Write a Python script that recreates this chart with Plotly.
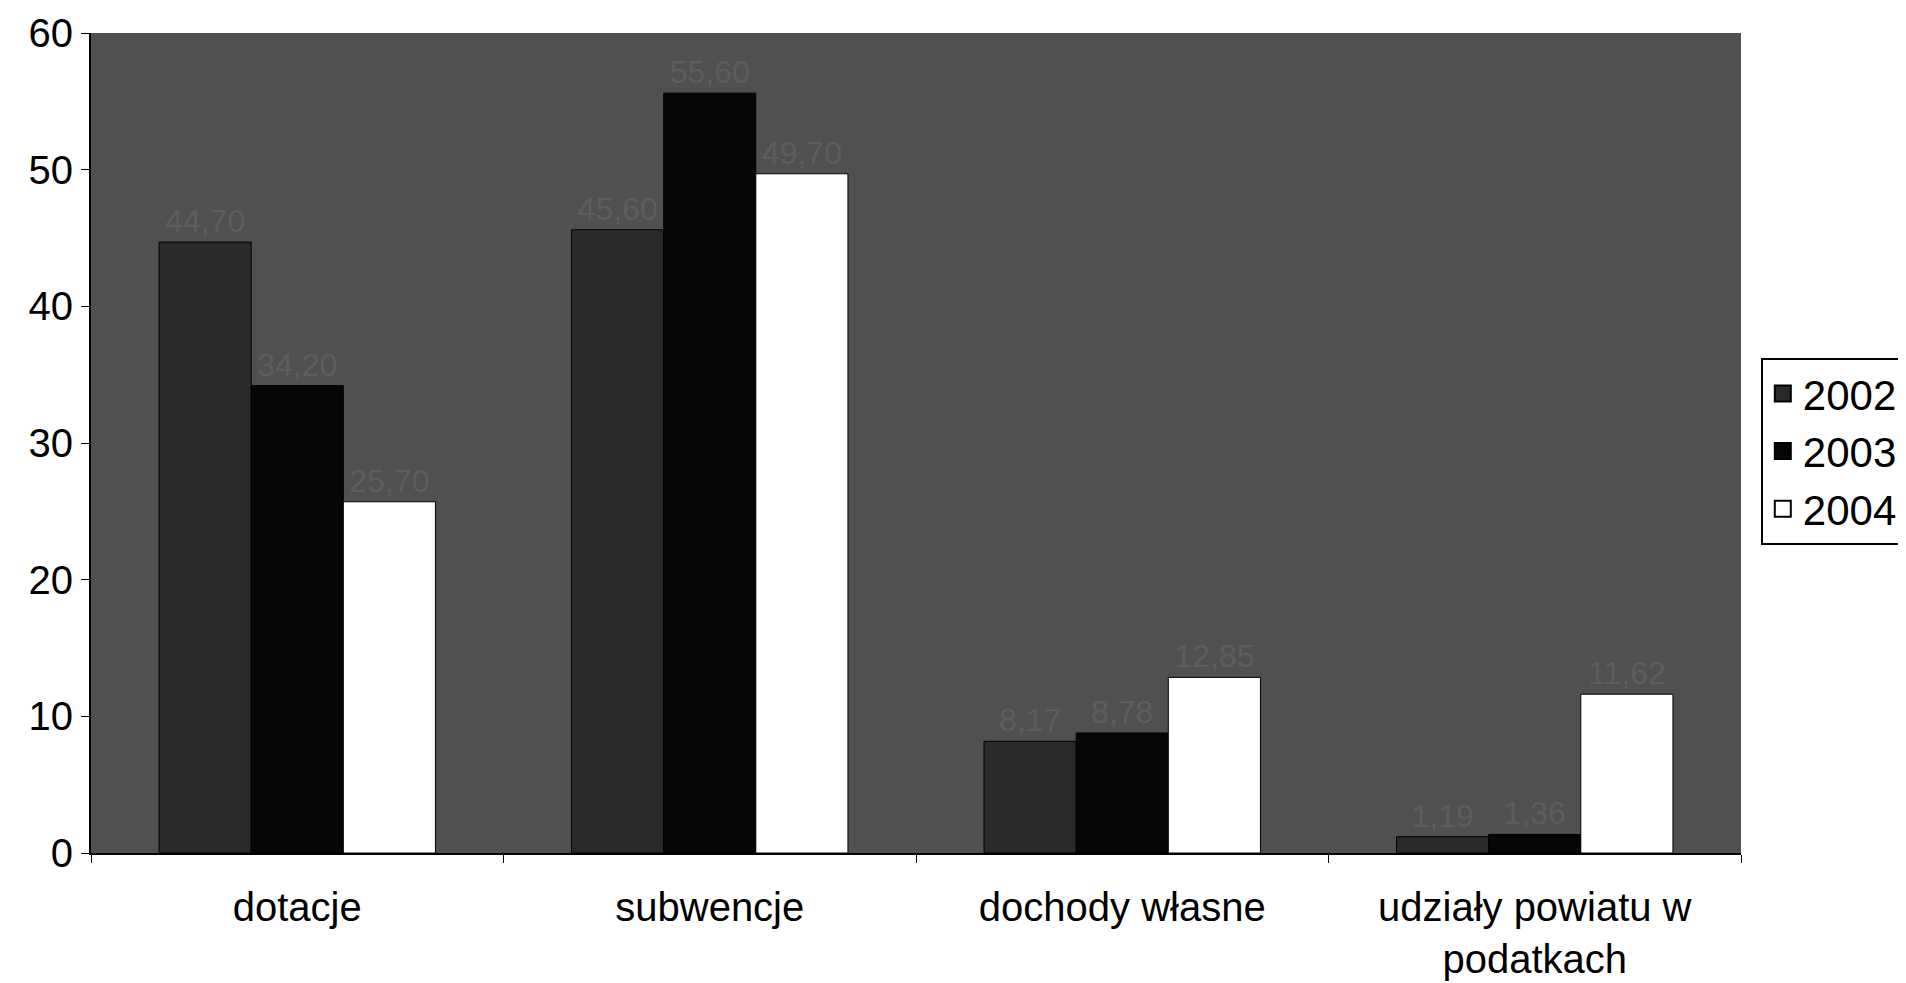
import plotly.graph_objects as go

categories = ["dotacje", "subwencje", "dochody własne", "udziały powiatu w<br>podatkach"]
years = ["2002", "2003", "2004"]
values_2002 = [44.7, 45.6, 8.17, 1.19]
values_2003 = [34.2, 55.6, 8.78, 1.36]
values_2004 = [25.7, 49.7, 12.85, 11.62]
y_ticks = [0, 10, 20, 30, 40, 50, 60]

series = [values_2002, values_2003, values_2004]
colors = ["#2a2a2a", "#060606", "#ffffff"]
FONT = "Liberation Sans, Arial, sans-serif"

def fmt(v):
    return f"{v:.2f}".replace(".", ",")

fig = go.Figure()
for name, vals, col in zip(years, series, colors):
    fig.add_trace(go.Bar(
        name=name, x=categories, y=vals, showlegend=False,
        marker=dict(color=col, line=dict(color="#000000", width=1)),
        text=[fmt(v) for v in vals], textposition="outside",
        textfont=dict(family=FONT, size=32, color="rgba(120,120,120,0.35)"),
        constraintext="none", cliponaxis=False,
    ))
# legend entries with larger square swatches
for name, col in zip(years, colors):
    fig.add_trace(go.Scatter(
        name=name, x=[None], y=[None], mode="markers",
        marker=dict(symbol="square", size=24, color=col, line=dict(color="#000000", width=2)),
        showlegend=True,
    ))

fig.update_layout(
    width=1898, height=975,
    barmode="group", bargap=0.33, bargroupgap=0,
    paper_bgcolor="#ffffff", plot_bgcolor="#505050",
    margin=dict(l=83, r=165, t=25, b=130, autoexpand=False),
    font=dict(family=FONT, size=42, color="#000000"),
    legend=dict(
        x=1.012, y=0.49, xanchor="left", yanchor="middle",
        bgcolor="#ffffff", bordercolor="#000000", borderwidth=2,
        font=dict(family=FONT, size=42, color="#000000"),
        tracegroupgap=0, itemwidth=30,
    ),
)
fig.update_xaxes(
    automargin=False, ticklabeloverflow="allow",
    showgrid=False, showline=True, linecolor="#000000", linewidth=2,
    ticks="outside", tickson="boundaries", ticklen=8, tickcolor="#000000",
    tickfont=dict(family=FONT, size=40), ticklabelstandoff=18,
)
fig.update_yaxes(
    automargin=False, ticklabeloverflow="allow",
    range=[0, 60], tickvals=y_ticks, ticktext=[str(t) for t in y_ticks],
    showgrid=False, zeroline=False, showline=True, linecolor="#000000", linewidth=2,
    ticks="outside", ticklen=8, tickcolor="#000000",
    tickfont=dict(family=FONT, size=40),
)

fig.write_html("out.html")
